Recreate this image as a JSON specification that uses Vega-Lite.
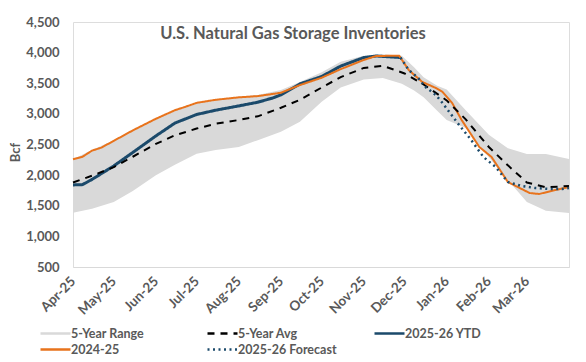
{
  "$schema": "https://vega.github.io/schema/vega-lite/v6.json",
  "width": 496,
  "height": 245,
  "autosize": "none",
  "padding": {"left": 73, "top": 22, "right": 17, "bottom": 95},
  "background": "white",
  "title": {"text": "U.S. Natural Gas Storage Inventories", "anchor": "middle", "frame": "group", "dx": -28, "offset": -26, "font": "Lato", "fontSize": 16.5, "fontWeight": "bold", "color": "#595959"},
  "datasets": {
    "range": [
      {"d": "2025-04-01", "s": "5-Year Range", "lo": 1387, "hi": 2260},
      {"d": "2025-04-15", "s": "5-Year Range", "lo": 1450, "hi": 2410},
      {"d": "2025-05-01", "s": "5-Year Range", "lo": 1560, "hi": 2570},
      {"d": "2025-05-15", "s": "5-Year Range", "lo": 1740, "hi": 2740},
      {"d": "2025-06-01", "s": "5-Year Range", "lo": 2000, "hi": 2920},
      {"d": "2025-06-15", "s": "5-Year Range", "lo": 2170, "hi": 3065},
      {"d": "2025-07-01", "s": "5-Year Range", "lo": 2350, "hi": 3185},
      {"d": "2025-07-15", "s": "5-Year Range", "lo": 2410, "hi": 3235},
      {"d": "2025-08-01", "s": "5-Year Range", "lo": 2460, "hi": 3280},
      {"d": "2025-08-15", "s": "5-Year Range", "lo": 2570, "hi": 3310},
      {"d": "2025-09-01", "s": "5-Year Range", "lo": 2710, "hi": 3390},
      {"d": "2025-09-15", "s": "5-Year Range", "lo": 2870, "hi": 3520},
      {"d": "2025-10-01", "s": "5-Year Range", "lo": 3200, "hi": 3680},
      {"d": "2025-10-15", "s": "5-Year Range", "lo": 3430, "hi": 3850},
      {"d": "2025-11-01", "s": "5-Year Range", "lo": 3560, "hi": 3950},
      {"d": "2025-11-15", "s": "5-Year Range", "lo": 3585, "hi": 3975},
      {"d": "2025-11-29", "s": "5-Year Range", "lo": 3490, "hi": 3950},
      {"d": "2025-12-08", "s": "5-Year Range", "lo": 3380, "hi": 3760},
      {"d": "2025-12-15", "s": "5-Year Range", "lo": 3270, "hi": 3600},
      {"d": "2025-12-25", "s": "5-Year Range", "lo": 3050, "hi": 3460},
      {"d": "2026-01-01", "s": "5-Year Range", "lo": 2900, "hi": 3400},
      {"d": "2026-01-15", "s": "5-Year Range", "lo": 2770, "hi": 3060},
      {"d": "2026-02-01", "s": "5-Year Range", "lo": 2290, "hi": 2660},
      {"d": "2026-02-15", "s": "5-Year Range", "lo": 1920, "hi": 2440},
      {"d": "2026-03-01", "s": "5-Year Range", "lo": 1560, "hi": 2345},
      {"d": "2026-03-15", "s": "5-Year Range", "lo": 1420, "hi": 2345},
      {"d": "2026-04-01", "s": "5-Year Range", "lo": 1380, "hi": 2265}
    ],
    "avg": [
      {"d": "2025-04-01", "s": "5-Year Avg", "v": 1880},
      {"d": "2025-04-15", "s": "5-Year Avg", "v": 1990},
      {"d": "2025-05-01", "s": "5-Year Avg", "v": 2130},
      {"d": "2025-05-15", "s": "5-Year Avg", "v": 2300},
      {"d": "2025-06-01", "s": "5-Year Avg", "v": 2510},
      {"d": "2025-06-15", "s": "5-Year Avg", "v": 2650},
      {"d": "2025-07-01", "s": "5-Year Avg", "v": 2760},
      {"d": "2025-07-15", "s": "5-Year Avg", "v": 2840},
      {"d": "2025-08-01", "s": "5-Year Avg", "v": 2900},
      {"d": "2025-08-15", "s": "5-Year Avg", "v": 2960},
      {"d": "2025-09-01", "s": "5-Year Avg", "v": 3100},
      {"d": "2025-09-15", "s": "5-Year Avg", "v": 3230},
      {"d": "2025-10-01", "s": "5-Year Avg", "v": 3430},
      {"d": "2025-10-15", "s": "5-Year Avg", "v": 3600},
      {"d": "2025-11-01", "s": "5-Year Avg", "v": 3750},
      {"d": "2025-11-15", "s": "5-Year Avg", "v": 3785},
      {"d": "2025-12-01", "s": "5-Year Avg", "v": 3660},
      {"d": "2025-12-15", "s": "5-Year Avg", "v": 3480},
      {"d": "2026-01-01", "s": "5-Year Avg", "v": 3220},
      {"d": "2026-01-15", "s": "5-Year Avg", "v": 2910},
      {"d": "2026-02-01", "s": "5-Year Avg", "v": 2460},
      {"d": "2026-02-15", "s": "5-Year Avg", "v": 2160},
      {"d": "2026-03-01", "s": "5-Year Avg", "v": 1880},
      {"d": "2026-03-15", "s": "5-Year Avg", "v": 1800},
      {"d": "2026-04-01", "s": "5-Year Avg", "v": 1823}
    ],
    "ytd": [
      {"d": "2025-04-01", "s": "2025-26 YTD", "v": 1840},
      {"d": "2025-04-08", "s": "2025-26 YTD", "v": 1845},
      {"d": "2025-04-15", "s": "2025-26 YTD", "v": 1930},
      {"d": "2025-05-01", "s": "2025-26 YTD", "v": 2150},
      {"d": "2025-05-15", "s": "2025-26 YTD", "v": 2370},
      {"d": "2025-06-01", "s": "2025-26 YTD", "v": 2640},
      {"d": "2025-06-15", "s": "2025-26 YTD", "v": 2850},
      {"d": "2025-07-01", "s": "2025-26 YTD", "v": 2990},
      {"d": "2025-07-15", "s": "2025-26 YTD", "v": 3060},
      {"d": "2025-08-01", "s": "2025-26 YTD", "v": 3130},
      {"d": "2025-08-15", "s": "2025-26 YTD", "v": 3190},
      {"d": "2025-08-26", "s": "2025-26 YTD", "v": 3260},
      {"d": "2025-09-01", "s": "2025-26 YTD", "v": 3310},
      {"d": "2025-09-15", "s": "2025-26 YTD", "v": 3490},
      {"d": "2025-10-01", "s": "2025-26 YTD", "v": 3610},
      {"d": "2025-10-15", "s": "2025-26 YTD", "v": 3780},
      {"d": "2025-11-01", "s": "2025-26 YTD", "v": 3920},
      {"d": "2025-11-10", "s": "2025-26 YTD", "v": 3945},
      {"d": "2025-11-28", "s": "2025-26 YTD", "v": 3920}
    ],
    "prior": [
      {"d": "2025-04-01", "s": "2024-25", "v": 2260},
      {"d": "2025-04-08", "s": "2024-25", "v": 2300},
      {"d": "2025-04-15", "s": "2024-25", "v": 2400},
      {"d": "2025-04-22", "s": "2024-25", "v": 2450},
      {"d": "2025-05-01", "s": "2024-25", "v": 2560},
      {"d": "2025-05-15", "s": "2024-25", "v": 2730},
      {"d": "2025-06-01", "s": "2024-25", "v": 2920},
      {"d": "2025-06-15", "s": "2024-25", "v": 3060},
      {"d": "2025-06-22", "s": "2024-25", "v": 3110},
      {"d": "2025-07-01", "s": "2024-25", "v": 3180},
      {"d": "2025-07-15", "s": "2024-25", "v": 3230},
      {"d": "2025-08-01", "s": "2024-25", "v": 3270},
      {"d": "2025-08-15", "s": "2024-25", "v": 3290},
      {"d": "2025-09-01", "s": "2024-25", "v": 3345},
      {"d": "2025-09-15", "s": "2024-25", "v": 3470},
      {"d": "2025-10-01", "s": "2024-25", "v": 3590},
      {"d": "2025-10-15", "s": "2024-25", "v": 3730},
      {"d": "2025-11-01", "s": "2024-25", "v": 3880},
      {"d": "2025-11-10", "s": "2024-25", "v": 3945},
      {"d": "2025-11-27", "s": "2024-25", "v": 3950},
      {"d": "2025-12-04", "s": "2024-25", "v": 3717},
      {"d": "2025-12-14", "s": "2024-25", "v": 3521},
      {"d": "2025-12-24", "s": "2024-25", "v": 3423},
      {"d": "2025-12-29", "s": "2024-25", "v": 3358},
      {"d": "2026-01-05", "s": "2024-25", "v": 3178},
      {"d": "2026-01-12", "s": "2024-25", "v": 2900},
      {"d": "2026-01-25", "s": "2024-25", "v": 2460},
      {"d": "2026-02-03", "s": "2024-25", "v": 2296},
      {"d": "2026-02-15", "s": "2024-25", "v": 1888},
      {"d": "2026-03-03", "s": "2024-25", "v": 1708},
      {"d": "2026-03-10", "s": "2024-25", "v": 1692},
      {"d": "2026-03-22", "s": "2024-25", "v": 1757},
      {"d": "2026-04-01", "s": "2024-25", "v": 1806}
    ],
    "fcst": [
      {"d": "2025-11-28", "s": "2025-26 Forecast", "v": 3920},
      {"d": "2025-12-04", "s": "2025-26 Forecast", "v": 3717},
      {"d": "2025-12-11", "s": "2025-26 Forecast", "v": 3586},
      {"d": "2025-12-16", "s": "2025-26 Forecast", "v": 3445},
      {"d": "2025-12-24", "s": "2025-26 Forecast", "v": 3309},
      {"d": "2025-12-29", "s": "2025-26 Forecast", "v": 3175},
      {"d": "2026-01-09", "s": "2025-26 Forecast", "v": 2851},
      {"d": "2026-01-19", "s": "2025-26 Forecast", "v": 2574},
      {"d": "2026-01-28", "s": "2025-26 Forecast", "v": 2296},
      {"d": "2026-02-06", "s": "2025-26 Forecast", "v": 2133},
      {"d": "2026-02-15", "s": "2025-26 Forecast", "v": 1888},
      {"d": "2026-02-25", "s": "2025-26 Forecast", "v": 1823},
      {"d": "2026-03-07", "s": "2025-26 Forecast", "v": 1790},
      {"d": "2026-03-17", "s": "2025-26 Forecast", "v": 1774},
      {"d": "2026-03-27", "s": "2025-26 Forecast", "v": 1774},
      {"d": "2026-04-01", "s": "2025-26 Forecast", "v": 1790}
    ]
  },
  "encoding": {
    "x": {
      "field": "d", "type": "temporal",
      "scale": {"type": "utc", "domain": [{"year": 2025, "month": 4, "date": 1, "utc": true}, {"year": 2026, "month": 4, "date": 1, "utc": true}]},
      "axis": {
        "title": null, "format": "%b-%y",
        "values": [
          {"year": 2025, "month": 4, "date": 1, "utc": true},
          {"year": 2025, "month": 5, "date": 1, "utc": true},
          {"year": 2025, "month": 6, "date": 1, "utc": true},
          {"year": 2025, "month": 7, "date": 1, "utc": true},
          {"year": 2025, "month": 8, "date": 1, "utc": true},
          {"year": 2025, "month": 9, "date": 1, "utc": true},
          {"year": 2025, "month": 10, "date": 1, "utc": true},
          {"year": 2025, "month": 11, "date": 1, "utc": true},
          {"year": 2025, "month": 12, "date": 1, "utc": true},
          {"year": 2026, "month": 1, "date": 1, "utc": true},
          {"year": 2026, "month": 2, "date": 1, "utc": true},
          {"year": 2026, "month": 3, "date": 1, "utc": true}
        ],
        "labelAngle": -45, "labelAlign": "right", "labelBaseline": "middle",
        "labelFont": "Lato", "labelFontSize": 13.5, "labelFontWeight": "bold", "labelColor": "#595959",
        "labelPadding": 12, "ticks": false, "grid": false, "labelOverlap": false, "labelBound": false, "labelFlush": false,
        "domainColor": "#D9D9D9", "domainWidth": 1
      }
    },
    "y": {"field": "v", "type": "quantitative", "scale": {"domain": [500, 4500], "nice": false, "zero": false},
      "axis": {"title": "Bcf", "values": [500, 1000, 1500, 2000, 2500, 3000, 3500, 4000, 4500], "format": ",.0f", "labelOverlap": false,
        "labelFont": "Lato", "labelFontSize": 13, "labelFontWeight": "bold", "labelColor": "#595959", "labelPadding": 14,
        "ticks": false, "domain": false, "grid": false,
        "titleFont": "Lato", "titleFontSize": 13, "titleFontWeight": "bold", "titleColor": "#595959",
        "titleX": -58, "titleY": 130, "titleAngle": -90, "titleAlign": "center", "titleBaseline": "middle"}}
  },
  "layer": [
    {
      "data": {"name": "range"},
      "mark": {"type": "area", "opacity": 1},
      "encoding": {
        "y": {"field": "lo", "type": "quantitative"},
        "y2": {"field": "hi"},
        "color": {"field": "s", "type": "nominal",
          "scale": {"domain": ["5-Year Range", "5-Year Avg", "2025-26 YTD", "2024-25", "2025-26 Forecast"], "range": ["#D9D9D9", "#000000", "#1B4A6B", "#E8731C", "#1B4A6B"]},
          "legend": {"title": null, "orient": "none", "legendX": -34, "legendY": 305, "direction": "horizontal", "columns": 3, "gridAlign": "all",
            "columnPadding": 32, "rowPadding": 3, "symbolType": "M0,0H6", "symbolSize": 100, "symbolOffset": -5, "symbolStrokeWidth": 2.5, "labelOffset": 24,
            "labelFont": "Lato", "labelFontSize": 12.5, "labelFontWeight": "bold", "labelColor": "#595959",
            "encode": {"symbols": {"update": {"strokeWidth": [{"test": "datum.value === '5-Year Range'", "value": 10}, {"test": "datum.value === '2025-26 YTD'", "value": 3}, {"value": 2.5}]}}}}
        }
      }
    },
    {
      "data": {"name": "ytd"},
      "mark": {"type": "line", "strokeWidth": 3},
      "encoding": {
        "color": {"field": "s", "type": "nominal"},
        "strokeDash": {"field": "s", "type": "nominal", "scale": {"domain": ["5-Year Range", "5-Year Avg", "2025-26 YTD", "2024-25", "2025-26 Forecast"], "range": [[1, 0], [7, 6], [1, 0], [1, 0], [2, 3.5]]}}
      }
    },
    {
      "data": {"name": "prior"},
      "mark": {"type": "line", "strokeWidth": 2},
      "encoding": {
        "color": {"field": "s", "type": "nominal"},
        "strokeDash": {"field": "s", "type": "nominal"}
      }
    },
    {
      "data": {"name": "avg"},
      "mark": {"type": "line", "strokeWidth": 2},
      "encoding": {
        "color": {"field": "s", "type": "nominal"},
        "strokeDash": {"field": "s", "type": "nominal"}
      }
    },
    {
      "data": {"name": "fcst"},
      "mark": {"type": "line", "strokeWidth": 2.5},
      "encoding": {
        "color": {"field": "s", "type": "nominal"},
        "strokeDash": {"field": "s", "type": "nominal"}
      }
    }
  ]
}
